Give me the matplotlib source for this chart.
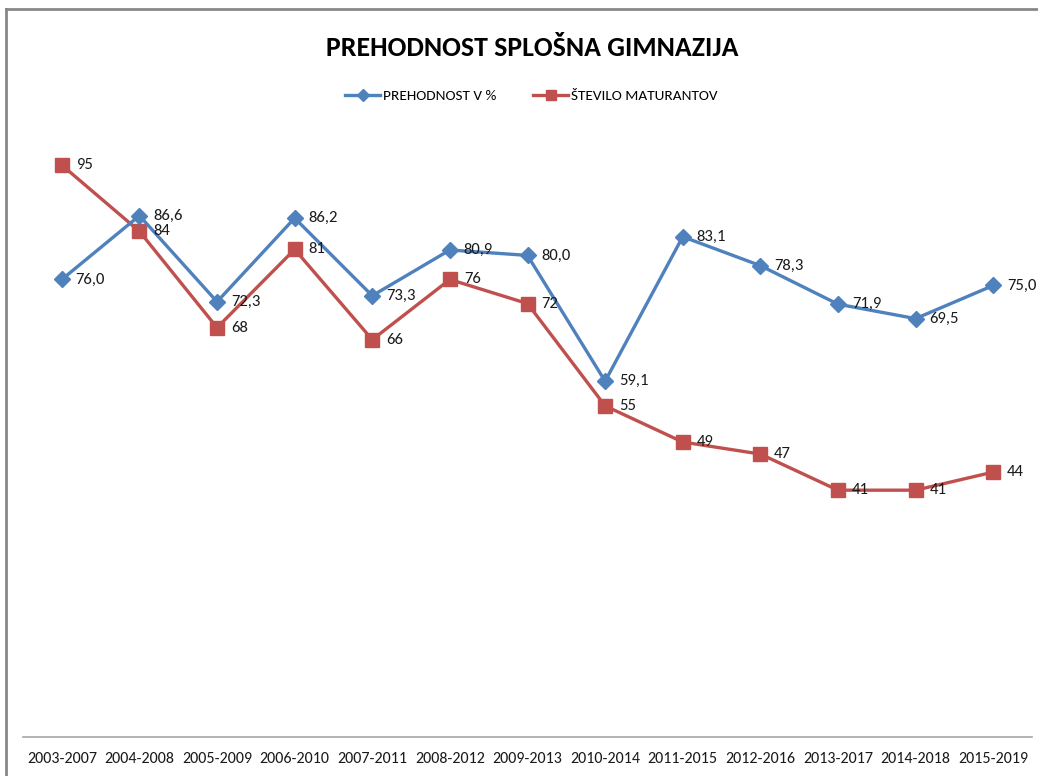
import matplotlib
matplotlib.use("Agg")
import matplotlib.pyplot as plt
from matplotlib.lines import Line2D

categories = ["2003-2007", "2004-2008", "2005-2009", "2006-2010", "2007-2011",
              "2008-2012", "2009-2013", "2010-2014", "2011-2015", "2012-2016",
              "2013-2017", "2014-2018", "2015-2019"]
prehodnost = [76.0, 86.6, 72.3, 86.2, 73.3, 80.9, 80.0, 59.1, 83.1, 78.3, 71.9, 69.5, 75.0]
maturanti = [95, 84, 68, 81, 66, 76, 72, 55, 49, 47, 41, 41, 44]

plt.rcParams['font.family'] = ['Carlito', 'DejaVu Sans']

W, H = 1038, 776
fig = plt.figure(figsize=(W / 100, H / 100), dpi=100)
ax = fig.add_axes([23 / W, (H - 737) / H, (1032 - 23) / W, (737 - 135) / H])

blue = "#4F81BD"
red = "#C0504D"
x = list(range(len(categories)))
ax.plot(x, prehodnost, color=blue, lw=2.4, marker="D", ms=8, mec=blue, mfc=blue, zorder=3)
ax.plot(x, maturanti, color=red, lw=2.4, marker="s", ms=10, mec=red, mfc=red, zorder=2)

for xi, v in zip(x, prehodnost):
    ax.annotate(f"{v:.1f}".replace(".", ","), (xi, v), xytext=(10, 0), textcoords="offset points",
                ha="left", va="center", fontsize=12, color="#1a1a1a", zorder=5)
for xi, v in zip(x, maturanti):
    ax.annotate(f"{v}", (xi, v), xytext=(10, 0), textcoords="offset points",
                ha="left", va="center", fontsize=12, color="#1a1a1a", zorder=5)

ax.set_xlim(-0.5, len(categories) - 0.5)
ax.set_ylim(0, 100)
ax.set_xticks(x)
ax.set_xticklabels(categories, fontsize=11.5, color="#1a1a1a")
ax.tick_params(axis="x", length=0, pad=11)
ax.set_yticks([])
for s in ["top", "right", "left"]:
    ax.spines[s].set_visible(False)
ax.spines["bottom"].set_color("#a6a6a6")
ax.spines["bottom"].set_linewidth(1.2)

fig.text(0.5125, 1 - 48 / H, "PREHODNOST SPLOŠNA GIMNAZIJA", ha="center", va="center",
         fontsize=20, fontweight="bold", color="#000000")

handles = [Line2D([], [], color=blue, lw=2.4, marker="D", ms=6),
           Line2D([], [], color=red, lw=2.4, marker="s", ms=7)]
fig.legend(handles, ["PREHODNOST V %", "ŠTEVILO MATURANTOV"], loc="center",
           bbox_to_anchor=(0.512, 1 - 96 / H), ncol=2, frameon=False, fontsize=11,
           handlelength=2.3, columnspacing=2.4, handletextpad=0.2)

# outer border (top and left visible)
fig.add_artist(Line2D([6 / W, 6 / W], [0, 1 - 9 / H], transform=fig.transFigure, color="#888888", lw=2))
fig.add_artist(Line2D([6 / W, 1], [1 - 9 / H, 1 - 9 / H], transform=fig.transFigure, color="#888888", lw=2))

fig.savefig("out.png", dpi=100)
